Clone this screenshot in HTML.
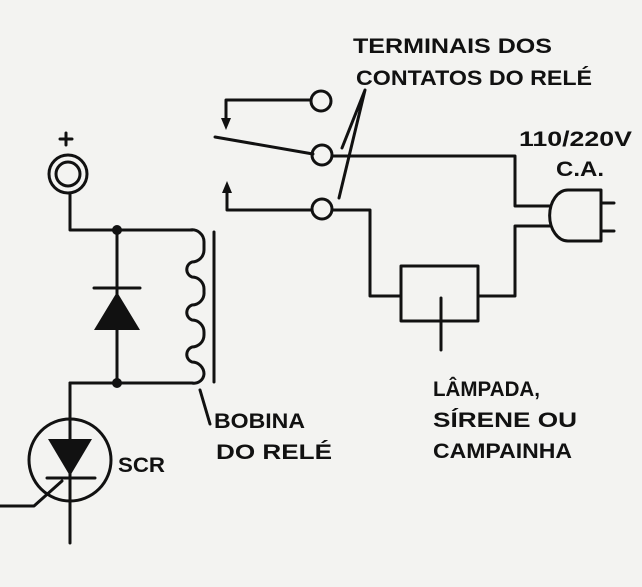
<!DOCTYPE html>
<html><head><style>
html,body{margin:0;padding:0;background:#f3f3f1;}
svg{display:block}
text{font-family:"Liberation Sans",sans-serif;font-weight:bold;fill:#111;}
</style></head><body>
<svg width="642" height="587" viewBox="0 0 642 587" xmlns="http://www.w3.org/2000/svg">
<rect width="642" height="587" fill="#f3f3f1"/>
<g stroke="#111" stroke-width="3" fill="none" stroke-linecap="round" stroke-linejoin="round">
<path d="M60 139h12M66 133v12" />
<circle cx="68" cy="174" r="19"/>
<circle cx="68" cy="174" r="12"/>
<path d="M70 193V230H192"/>
<path d="M190 230 A12 12 0 0 1 204 242 V250 A12 12 0 0 1 192 262 A8 8 0 0 0 192 277 A12 12 0 0 1 204 289 V292 A12 12 0 0 1 192 305 A8 8 0 0 0 192 320 A12 12 0 0 1 204 332 V335 A12 12 0 0 1 192 347 A8 8 0 0 0 192 362 A12 12 0 0 1 204 374 A10 10 0 0 1 192 383 H70"/>
<path d="M214 232V382"/>
<path d="M117 230V383M94 288H140"/>
<path d="M70 383V543"/>
<circle cx="70" cy="460" r="41"/>
<path d="M47 478H95M62 481L34 506H0"/>
<path d="M226 100H311M226 100V122"/>
<path d="M215 137L313 154"/>
<path d="M227 210H312M227 210V190"/>
<circle cx="321" cy="101" r="10"/>
<circle cx="322" cy="155" r="10"/>
<circle cx="322" cy="209" r="10"/>
<path d="M332 156H515V206H550M332 210H370V296H401M478 296H515V226H550"/>
<rect x="401" y="266" width="77" height="55"/>
<path d="M441 298V350"/>
<path d="M365 90L342 148M365 90L339 198"/>
<path d="M200 390L210 424"/>
<path d="M601 190H568 A18 25 0 0 0 568 241 H601Z M601 203H614M601 231H614"/>
</g>
<g fill="#111">
<path d="M94 330L140 330L117 292Z"/>
<path d="M48 439L92 439L70 476Z"/>
<path d="M221 118L231 118L226 130Z"/>
<path d="M222 193L232 193L227 181Z"/>
<circle cx="117" cy="230" r="5"/>
<circle cx="117" cy="383" r="5"/>
</g>
<g font-size="21" lengthAdjust="spacingAndGlyphs">
<text x="353" y="53" textLength="199" lengthAdjust="spacingAndGlyphs">TERMINAIS DOS</text>
<text x="356" y="85" textLength="236" lengthAdjust="spacingAndGlyphs">CONTATOS DO RELÉ</text>
<text x="519" y="146" textLength="113" lengthAdjust="spacingAndGlyphs">110/220V</text>
<text x="556" y="176" textLength="48" lengthAdjust="spacingAndGlyphs">C.A.</text>
<text x="118" y="472" textLength="47" lengthAdjust="spacingAndGlyphs">SCR</text>
<text x="214" y="428" textLength="91" lengthAdjust="spacingAndGlyphs">BOBINA</text>
<text x="216" y="459" textLength="116" lengthAdjust="spacingAndGlyphs">DO RELÉ</text>
<text x="433" y="396" textLength="107" lengthAdjust="spacingAndGlyphs">LÂMPADA,</text>
<text x="433" y="427" textLength="144" lengthAdjust="spacingAndGlyphs">SÍRENE OU</text>
<text x="433" y="458" textLength="139" lengthAdjust="spacingAndGlyphs">CAMPAINHA</text>
</g>
</svg>
</body></html>
